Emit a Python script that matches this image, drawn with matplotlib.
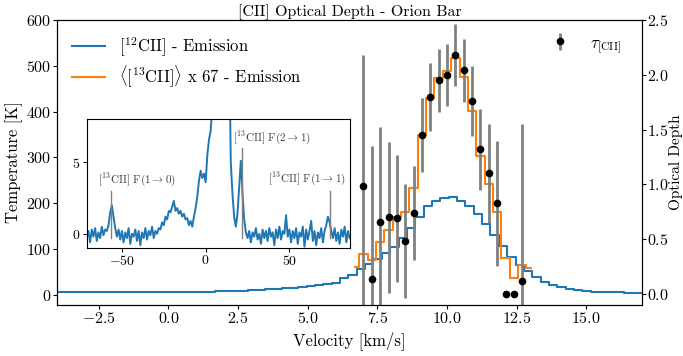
import numpy as np
import matplotlib
matplotlib.use("Agg")
import matplotlib.pyplot as plt

plt.rcParams['font.family'] = 'cmr10'
plt.rcParams['mathtext.fontset'] = 'cm'
plt.rcParams['axes.formatter.use_mathtext'] = True
plt.rcParams['axes.unicode_minus'] = True

# [12CII] spectrum, 0.3 km/s channels
v12 = np.round(-4.19 + 0.3 * np.arange(72), 2)
T12 = [7.0,
       7.0, 7.0, 6.9, 6.8, 6.8, 6.7, 6.6, 6.5, 6.4, 6.3,
       6.2, 6.1, 6.0, 6.0, 6.0, 6.1, 6.3, 6.6, 7.0, 7.5,
       8.0, 8.6, 9.3, 10.1, 11.0, 12.0, 13.2, 14.5, 16.0, 17.8,
       19.8, 22.0, 24.5, 27.0,
       36, 44, 56, 67, 78, 91, 104, 124, 146, 171,
       193, 206, 212, 213, 206, 193, 177, 154, 131, 107,
       83, 65, 52, 38, 29, 22, 17, 13, 10, 8.7,
       7.3, 6.5, 6.0, 5.5, 5.0, 4.8, 4.5]

# averaged [13CII] hyperfine lines scaled by 67
v13 = np.round(6.7 + 0.3 * np.arange(22), 2)
T13 = [60, 89, 76, 116, 142, 171, 182, 234, 349, 430, 473,
       489, 516, 476, 402, 304, 242, 182, 80, 36, 65, 58]

# optical depth per channel
v_tau = np.round(7.0 + 0.3 * np.arange(20), 2)
tau = [0.99, 0.14, 0.66, 0.70, 0.69, 0.48, 0.74, 1.45, 1.80, 1.95,
       2.00, 2.18, 2.04, 1.76, 1.32, 1.10, 0.83, 0.0, 0.0, 0.12]
tau_err = [1.19, 1.21, 0.86, 0.69, 0.58, 0.52, 0.43, 0.34, 0.31, 0.29,
           0.28, 0.28, 0.29, 0.32, 0.37, 0.45, 0.57, np.nan, np.nan, 1.43]

# wide-band spectrum for the inset, 1 km/s
v_wide = np.arange(-71, 87)
T_wide = [-0.3, 0.2, -0.6, 0.3, -0.2, 0.4, -0.5, 0.1, -0.3, 0.5, -0.1, 0.3,
          0.2, 0.6, 1.5, 2.0, 1.2, 0.4, -0.2, 0.3,
          -0.4, 0.2, -0.6, 0.1, -0.3, 0.4, -0.7, 0.0, -0.2, 0.3,
          -0.5, 0.2, -0.8, 0.1, -0.3, 0.4, -0.4, 0.2, -0.1, 0.5, -0.3, 0.2,
          0.0, 0.4, 0.3, 0.8, 0.6, 1.2, 1.0, 1.6,
          1.5, 1.9, 2.3, 1.6, 1.8, 1.4, 1.6, 1.2, 1.4, 1.0,
          1.1, 0.6, 0.9, 0.5, 1.2,
          1.8, 2.6, 3.7, 4.4, 3.9, 4.2, 3.6, 5.5, 6.6, 7.2, 9.0,
          20, 60, 110, 170, 205, 213, 200, 150, 60,
          14, 5.0, 2.8, 1.2, 0.5, 1.4, 3.2, 5.1, 2.8, 1.0, 0.1,
          -0.3, 0.2, -0.6, 0.1, -0.2, 0.4, -0.4, 0.0, -0.7, 0.3,
          -0.3, 0.2, -0.5, 0.4, -0.2, 0.1, -0.8, 0.3, -0.3, 0.5,
          -0.4, 0.2, 0.0, 1.3, -0.2, 0.3, -0.6, 0.2, -0.3, 0.4,
          -0.7, 0.1, -0.2, 0.5, -0.9, 0.3, -0.4, 0.2, 0.9, -0.5,
          0.2, -0.8, 0.1, -0.3, 0.4, -0.6, 0.2, 0.6, 1.2, 0.8,
          0.2, -0.3, 0.4, -0.5, 0.1, -0.7, 0.3, -0.2, 0.5, -0.6,
          0.2, -0.3]

hf_labels = [r'[$^{13}$CII] F(1$\rightarrow$0)',
             r'[$^{13}$CII] F(2$\rightarrow$1)',
             r'[$^{13}$CII] F(1$\rightarrow$1)']
hf_v = [-56.3, 21.5, 74.4]
hf_top = [3.0, 6.0, 3.0]
hf_text_x = [-64.5, 16.3, 37.3]
hf_text_y = [3.8, 6.7, 3.85]

fig = plt.figure(figsize=(6.83, 3.56), dpi=100)
ax = fig.add_axes([0.0835, 0.1433, 0.8565, 0.8005])
ax.step(v12, T12, where='mid', color='C0', lw=1.5, label=r'[$^{12}$CII] - Emission')
ax.step(v13, T13, where='mid', color='C1', lw=1.5,
        label=r'$\langle$[$^{13}$CII]$\rangle$ x 67 - Emission')
ax.set_xlim(-4, 17)
ax.set_ylim(-22, 600)
ax.set_xlabel('Velocity [km/s]', fontsize=12)
ax.set_ylabel('Temperature [K]', fontsize=12)
ax.yaxis.set_label_coords(-0.058, 0.5)
ax.set_title('[CII] Optical Depth - Orion Bar', fontsize=11.5, pad=3)
ax.tick_params(labelsize=11.5, length=3, pad=1.2)
ax.legend(loc='upper left', frameon=False, fontsize=12, labelspacing=0.3)

ax2 = ax.twinx()
ax2.errorbar(v_tau, tau, yerr=tau_err, fmt='o', color='k', ms=4.5,
             ecolor='grey', elinewidth=2, capsize=0, label=r'$\tau_{\rm [CII]}$')
ax2.set_ylim(-0.1, 2.5)
ax2.set_ylabel('Optical Depth', fontsize=11)
ax2.yaxis.set_label_coords(1.0465, 0.5)
ax2.tick_params(labelsize=11.5, length=3, pad=0.8)
ax2.legend(loc='upper right', frameon=False, fontsize=12,
           bbox_to_anchor=(0.99, 1.0))

ins = fig.add_axes([0.127, 0.303, 0.385, 0.362])
ins.plot(v_wide, T_wide, color='C0', lw=1.4)
for lab, x, top, tx, ty in zip(hf_labels, hf_v, hf_top, hf_text_x, hf_text_y):
    ins.plot([x, x], [-0.3, top], color='grey', lw=1)
    ins.text(tx, ty, lab, fontsize=8, color='0.25', va='center', ha='left')
ins.set_xlim(-71, 86)
ins.set_ylim(-1, 8)
ins.set_xticks([-50, 0, 50])
ins.set_yticks([0, 5])
ins.tick_params(labelsize=10, length=3, pad=1.5)

fig.savefig('out.png', dpi=100)
